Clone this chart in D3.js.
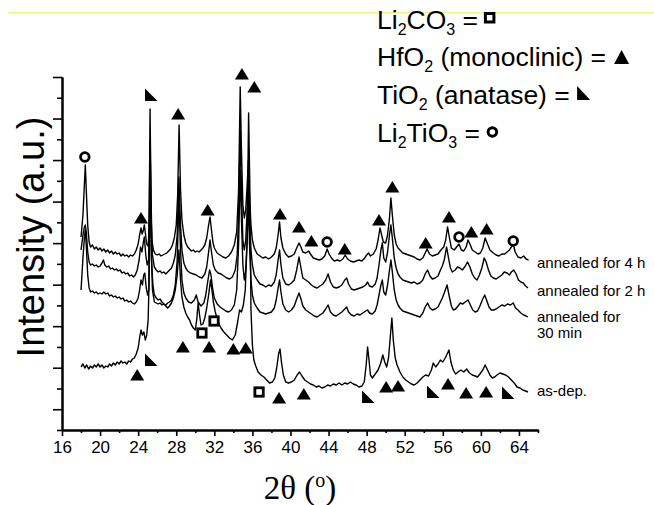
<!DOCTYPE html>
<html><head><meta charset="utf-8">
<script src="https://cdn.jsdelivr.net/npm/d3@7"></script>
<style>body{margin:0;background:#fff}svg{display:block}text{white-space:pre}</style>
</head><body>
<svg id="c" width="654" height="505"></svg>
<script>
// ---------- data ----------
const xTicks = [16,20,24,28,32,36,40,44,48,52,56,60,64];
const xMinorTicks = [18,22,26,30,34,38,42,46,50,54,58,62,66];

const curve4h = [[18.0,193],[18.2,215],[18.35,245],[18.45,265],[18.55,240],[18.7,205],[18.85,188],[19.0,183],[19.2,185],[19.4,181],[19.6,183],[19.8,180],[20.0,182],[20.2,179],[20.4,181],[20.6,178],[20.8,180],[21.0,177],[21.2,179],[21.4,176],[21.6,178],[21.8,176],[22.0,177],[22.2,174],[22.4,176],[22.6,174],[22.8,175],[23.0,173],[23.2,175],[23.4,174],[23.6,176],[23.8,180],[24.0,186],[24.15,195],[24.3,202],[24.42,196],[24.55,200],[24.65,205],[24.78,195],[24.9,186],[25.05,184],[25.15,200],[25.25,321],[25.35,230],[25.45,190],[25.6,180],[25.8,176],[26.0,175],[26.2,176],[26.4,174],[26.6,175],[26.8,176],[27.0,177],[27.2,179],[27.4,181],[27.6,185],[27.8,192],[28.0,205],[28.15,235],[28.3,305],[28.45,240],[28.6,210],[28.8,195],[29.0,187],[29.2,183],[29.4,181],[29.6,179],[29.8,180],[30.0,178],[30.2,179],[30.4,178],[30.6,180],[30.8,182],[31.0,185],[31.2,192],[31.4,205],[31.55,213],[31.7,200],[31.85,188],[32.0,182],[32.3,177],[32.6,175],[32.9,173],[33.2,172],[33.5,174],[33.8,178],[34.1,185],[34.35,198],[34.55,240],[34.72,343],[34.85,280],[35.0,225],[35.15,212],[35.3,220],[35.45,245],[35.58,270],[35.7,235],[35.85,205],[36.0,190],[36.2,182],[36.5,176],[36.8,174],[37.1,172],[37.4,173],[37.7,171],[38.0,173],[38.3,176],[38.5,182],[38.7,195],[38.85,208],[39.0,192],[39.2,182],[39.5,176],[39.8,173],[40.1,174],[40.4,176],[40.65,182],[40.9,187],[41.1,183],[41.3,178],[41.6,177],[41.9,179],[42.1,176],[42.4,172],[42.7,171],[43.0,170],[43.3,171],[43.6,174],[43.85,181],[44.05,176],[44.3,172],[44.6,169],[44.9,170],[45.2,169],[45.5,171],[45.75,175],[46.0,171],[46.3,169],[46.6,168],[46.9,169],[47.2,170],[47.5,169],[47.8,172],[48.0,175],[48.2,177],[48.4,174],[48.7,176],[49.0,181],[49.2,190],[49.4,202],[49.55,196],[49.75,188],[50.0,187],[50.2,195],[50.4,212],[50.55,232],[50.7,215],[50.9,195],[51.1,186],[51.3,182],[51.5,180],[51.8,177],[52.1,176],[52.4,175],[52.7,174],[53.0,173],[53.3,171],[53.6,170],[53.9,172],[54.15,177],[54.35,181],[54.6,176],[54.9,174],[55.2,175],[55.5,176],[55.8,180],[56.1,183],[56.3,190],[56.5,203],[56.7,192],[56.9,182],[57.2,180],[57.45,183],[57.7,186],[57.95,180],[58.2,179],[58.45,183],[58.65,190],[58.85,186],[59.1,180],[59.4,178],[59.7,176],[59.95,177],[60.2,182],[60.45,192],[60.7,186],[60.95,180],[61.3,177],[61.6,175],[61.9,174],[62.2,176],[62.5,176],[62.75,178],[63.0,180],[63.2,183],[63.4,186],[63.6,178],[63.9,173],[64.2,172],[64.5,174],[64.75,171],[65.0,170]];

const curve2h = [[18.0,180],[18.2,195],[18.35,203],[18.45,205],[18.55,198],[18.7,178],[18.85,168],[19.0,165],[19.2,166],[19.4,164],[19.6,165],[19.8,163],[20.0,164],[20.2,167],[20.35,170],[20.5,165],[20.7,163],[20.9,164],[21.1,161],[21.3,162],[21.5,160],[21.7,161],[21.9,159],[22.1,160],[22.3,157],[22.5,158],[22.7,156],[22.9,157],[23.1,154],[23.3,155],[23.5,153],[23.7,155],[23.9,160],[24.1,170],[24.25,183],[24.4,178],[24.55,188],[24.65,193],[24.8,175],[24.95,165],[25.1,170],[25.25,290],[25.35,215],[25.5,175],[25.7,163],[25.9,160],[26.1,158],[26.3,159],[26.5,157],[26.7,158],[26.9,156],[27.1,158],[27.3,160],[27.5,162],[27.7,167],[27.9,175],[28.1,195],[28.28,253],[28.45,205],[28.6,180],[28.8,167],[29.0,162],[29.2,159],[29.5,157],[29.8,156],[30.1,155],[30.4,153],[30.7,152],[31.0,156],[31.2,163],[31.4,178],[31.55,190],[31.7,178],[31.9,165],[32.1,160],[32.4,157],[32.7,156],[33.0,154],[33.3,152],[33.6,151],[33.9,153],[34.2,160],[34.4,175],[34.55,215],[34.72,300],[34.85,240],[35.0,190],[35.15,180],[35.3,190],[35.45,220],[35.58,250],[35.7,210],[35.85,180],[36.0,165],[36.2,155],[36.5,150],[36.8,146],[37.1,145],[37.4,143],[37.7,145],[38.0,144],[38.3,148],[38.5,155],[38.7,170],[38.85,180],[39.0,165],[39.2,152],[39.5,146],[39.8,145],[40.1,147],[40.4,150],[40.65,160],[40.9,173],[41.1,162],[41.3,152],[41.6,150],[41.9,148],[42.2,145],[42.5,143],[42.8,142],[43.1,144],[43.4,146],[43.7,150],[43.95,156],[44.2,148],[44.5,143],[44.8,142],[45.1,143],[45.4,145],[45.7,150],[45.9,152],[46.1,146],[46.4,141],[46.7,140],[47.0,141],[47.3,142],[47.6,143],[47.9,145],[48.1,148],[48.3,144],[48.6,143],[48.9,146],[49.1,152],[49.3,165],[49.5,180],[49.65,187],[49.8,172],[50.0,168],[50.2,178],[50.4,195],[50.55,205],[50.7,192],[50.9,172],[51.1,162],[51.3,156],[51.5,153],[51.8,150],[52.1,149],[52.4,148],[52.7,147],[53.0,148],[53.3,146],[53.6,147],[53.9,150],[54.15,156],[54.4,160],[54.65,154],[54.9,151],[55.2,152],[55.5,154],[55.75,160],[55.95,164],[56.15,170],[56.4,183],[56.6,172],[56.8,162],[57.0,158],[57.3,160],[57.55,163],[57.8,162],[58.05,160],[58.3,163],[58.6,168],[58.85,163],[59.1,156],[59.35,152],[59.6,150],[59.85,155],[60.1,162],[60.35,172],[60.55,168],[60.8,160],[61.05,154],[61.3,152],[61.6,151],[61.9,153],[62.2,155],[62.45,158],[62.75,157],[63.0,155],[63.2,158],[63.45,160],[63.7,156],[63.95,150],[64.2,148],[64.45,147],[64.7,144],[64.95,142]];

const curve30min = [[18.0,140],[18.2,172],[18.35,192],[18.45,200],[18.55,185],[18.7,155],[18.85,142],[19.0,138],[19.2,139],[19.4,137],[19.6,138],[19.8,136],[20.0,137],[20.2,136],[20.4,138],[20.6,136],[20.8,137],[21.0,134],[21.2,135],[21.4,133],[21.6,134],[21.8,132],[22.0,133],[22.2,131],[22.4,132],[22.6,129],[22.8,130],[23.0,128],[23.2,129],[23.4,127],[23.6,126],[23.8,128],[24.0,132],[24.15,140],[24.3,150],[24.45,145],[24.58,155],[24.7,157],[24.85,142],[25.0,135],[25.12,140],[25.25,260],[25.38,180],[25.5,140],[25.7,128],[25.9,127],[26.1,126],[26.3,127],[26.5,125],[26.7,126],[26.9,125],[27.1,127],[27.3,128],[27.5,130],[27.7,135],[27.9,145],[28.1,170],[28.28,230],[28.45,180],[28.6,150],[28.8,137],[29.0,132],[29.3,128],[29.6,127],[29.9,130],[30.1,135],[30.3,128],[30.6,124],[30.9,127],[31.1,135],[31.3,148],[31.5,160],[31.65,155],[31.8,143],[32.0,132],[32.3,126],[32.6,123],[32.9,121],[33.2,119],[33.5,118],[33.8,120],[34.1,125],[34.35,140],[34.55,185],[34.72,260],[34.85,210],[35.0,165],[35.15,150],[35.3,160],[35.45,190],[35.58,230],[35.7,185],[35.85,150],[36.0,135],[36.2,127],[36.5,122],[36.8,118],[37.1,117],[37.4,116],[37.7,117],[38.0,118],[38.3,122],[38.5,130],[38.7,142],[38.85,150],[39.0,138],[39.2,126],[39.5,120],[39.8,118],[40.1,120],[40.4,124],[40.65,131],[40.9,137],[41.1,131],[41.3,124],[41.6,120],[41.9,118],[42.2,116],[42.5,114],[42.8,113],[43.1,115],[43.4,117],[43.7,121],[43.95,125],[44.2,118],[44.5,115],[44.8,114],[45.1,116],[45.4,118],[45.7,121],[45.9,123],[46.1,118],[46.4,115],[46.7,114],[47.0,116],[47.3,115],[47.6,117],[47.9,119],[48.1,120],[48.3,117],[48.6,116],[48.9,119],[49.1,125],[49.3,135],[49.5,145],[49.65,150],[49.8,138],[50.0,135],[50.2,145],[50.4,160],[50.55,170],[50.7,158],[50.9,140],[51.1,130],[51.3,125],[51.5,122],[51.8,119],[52.1,118],[52.4,117],[52.7,116],[53.0,115],[53.3,114],[53.6,113],[53.9,117],[54.15,123],[54.4,127],[54.65,122],[54.9,120],[55.2,121],[55.5,123],[55.75,128],[55.95,132],[56.15,137],[56.45,145],[56.65,135],[56.9,124],[57.1,120],[57.35,121],[57.6,124],[57.85,127],[58.1,126],[58.35,128],[58.65,130],[58.9,125],[59.15,120],[59.4,118],[59.65,119],[59.9,124],[60.15,130],[60.4,135],[60.6,130],[60.85,123],[61.1,120],[61.35,120],[61.6,121],[61.9,123],[62.2,125],[62.5,124],[62.8,126],[63.1,125],[63.4,127],[63.65,122],[63.9,120],[64.2,117],[64.5,115],[64.75,114],[64.95,113]];

const curveAsDep = [[18.0,63],[18.2,66],[18.4,62],[18.6,65],[18.8,61],[19.0,64],[19.2,62],[19.4,65],[19.6,63],[19.8,66],[20.0,63],[20.2,65],[20.4,62],[20.6,64],[20.8,63],[21.0,66],[21.2,64],[21.4,67],[21.6,65],[21.8,68],[22.0,66],[22.2,69],[22.4,67],[22.6,68],[22.8,66],[23.0,69],[23.2,68],[23.4,71],[23.6,72],[23.8,76],[24.0,82],[24.15,92],[24.3,100],[24.45,95],[24.6,98],[24.75,90],[24.9,95],[25.05,110],[25.15,150],[25.27,285],[25.4,170],[25.55,145],[25.7,135],[25.9,132],[26.1,130],[26.3,131],[26.5,128],[26.7,126],[26.9,124],[27.1,122],[27.3,124],[27.5,127],[27.7,132],[27.9,140],[28.1,155],[28.28,180],[28.45,150],[28.6,133],[28.8,123],[29.0,117],[29.2,113],[29.4,110],[29.6,105],[29.8,102],[30.0,100],[30.15,110],[30.3,127],[30.45,115],[30.6,105],[30.8,106],[31.0,112],[31.2,122],[31.4,135],[31.6,150],[31.75,140],[31.9,128],[32.1,118],[32.4,108],[32.7,102],[33.0,98],[33.3,95],[33.6,92],[33.9,90],[34.2,95],[34.45,108],[34.65,120],[34.85,118],[35.05,125],[35.25,140],[35.45,190],[35.6,317],[35.72,250],[35.85,120],[36.0,85],[36.15,70],[36.35,64],[36.6,58],[36.9,55],[37.2,53],[37.5,50],[37.8,47],[38.1,48],[38.35,52],[38.55,62],[38.75,76],[38.9,81],[39.05,68],[39.25,55],[39.5,48],[39.8,47],[40.1,48],[40.4,50],[40.7,55],[40.95,58],[41.2,54],[41.5,50],[41.8,48],[42.1,46],[42.4,45],[42.7,43],[43.0,44],[43.3,42],[43.6,43],[43.9,45],[44.2,44],[44.5,46],[44.8,45],[45.1,47],[45.4,45],[45.7,47],[46.0,46],[46.3,48],[46.6,46],[46.9,45],[47.2,43],[47.5,44],[47.75,48],[47.95,65],[48.1,83],[48.25,70],[48.4,55],[48.6,52],[48.9,56],[49.2,60],[49.45,66],[49.7,75],[49.9,68],[50.1,63],[50.3,72],[50.5,95],[50.65,112],[50.8,90],[51.0,72],[51.2,65],[51.5,58],[51.8,53],[52.1,50],[52.4,48],[52.7,46],[53.0,45],[53.3,47],[53.6,50],[53.9,53],[54.2,55],[54.5,54],[54.8,60],[55.0,67],[55.25,63],[55.5,66],[55.75,70],[56.0,68],[56.25,72],[56.45,76],[56.65,80],[56.85,68],[57.1,60],[57.35,56],[57.6,58],[57.9,60],[58.2,58],[58.5,61],[58.8,57],[59.1,55],[59.4,54],[59.65,53],[59.9,56],[60.2,60],[60.45,65],[60.7,60],[60.95,55],[61.2,52],[61.45,53],[61.7,55],[62.0,57],[62.3,56],[62.6,55],[62.9,53],[63.2,50],[63.5,47],[63.8,43],[64.1,42],[64.4,40],[64.7,39],[64.95,38]];

// phase markers [2theta, intensity]
const markLi2CO3 = [[30.7,97],[31.97,109],[36.7,38]];
const markHfO2 = [[24.3,212],[28.2,316],[31.3,220],[34.9,356],[36.2,343],[38.9,216],[40.9,203],[42.2,189],[45.7,181],[49.3,210],[50.7,243],[54.2,187],[56.65,213],[59.0,198],[60.6,201],
                  [23.9,55],[28.7,83],[31.45,83],[34.0,81],[35.3,82],[38.8,32],[41.4,36],[50.05,43],[51.3,44],[56.55,46],[58.45,37],[60.55,38]];
const markAnatase = [[25.35,335],[25.35,70],[48.15,33],[54.97,38],[62.85,37]];
const markLi2TiO3 = [[18.4,273],[43.85,188],[57.7,193],[63.4,189]];

const curveLabels = [["annealed for 4 h",268],["annealed for 2 h",296],["annealed for",322],["30 min",338],["as-dep.",396]];

// ---------- drawing ----------
const svg = d3.select("#c");
const FONT = "'Liberation Sans', Arial, sans-serif";
const x = d3.scaleLinear().domain([16,66]).range([62,538]);
const y = d3.scaleLinear().domain([0,353]).range([430,77]);

// thin top rule
svg.append("line").attr("x1",8).attr("x2",654).attr("y1",12.5).attr("y2",12.5)
  .attr("stroke","#f2f27a").attr("stroke-width",1);

// axes
const yMajor = d3.range(1,18,2).map(v=>v*353/17);
const yMinor = d3.range(0,17,2).map(v=>v*353/17);

svg.append("g").attr("transform","translate(0,430)")
  .call(d3.axisBottom(x).tickValues(xMinorTicks).tickSize(3).tickSizeOuter(0).tickFormat(""));
const gx = svg.append("g").attr("transform","translate(0,430)")
  .call(d3.axisBottom(x).tickValues(xTicks).tickSize(6).tickSizeOuter(0).tickPadding(5));
gx.selectAll("text").attr("font-size",17).attr("font-family",FONT).attr("fill","#000");
svg.append("g").attr("transform","translate(62,0)")
  .call(d3.axisLeft(y).tickValues(yMinor).tickSize(5).tickSizeOuter(0).tickFormat(""));
svg.append("g").attr("transform","translate(62,0)")
  .call(d3.axisLeft(y).tickValues(yMajor).tickSize(9).tickSizeOuter(0).tickFormat(""));
svg.selectAll(".domain").attr("stroke","#000").attr("stroke-width",2);
svg.selectAll(".tick line").attr("stroke","#000").attr("stroke-width",1.6);

// curves
const line = d3.line().x(d=>x(d[0])).y(d=>y(d[1]));
[curveAsDep, curve30min, curve2h, curve4h].forEach(c=>{
  svg.append("path").datum(c).attr("d",line).attr("fill","none")
    .attr("stroke","#000").attr("stroke-width",1.4).attr("stroke-linejoin","round");
});

// markers
svg.selectAll(".tri").data(markHfO2).join("path")
  .attr("d",d=>{const cx=x(d[0]),cy=y(d[1]);return `M${cx-7},${cy+5.5}L${cx+7},${cy+5.5}L${cx},${cy-6}Z`;})
  .attr("fill","#000");
svg.selectAll(".ana").data(markAnatase).join("path")
  .attr("d",d=>{const cx=x(d[0]),cy=y(d[1]);return `M${cx-6},${cy-6.5}L${cx-6},${cy+6}L${cx+6.5},${cy+6}Z`;})
  .attr("fill","#000");
svg.selectAll(".sq").data(markLi2CO3).join("rect")
  .attr("x",d=>x(d[0])-4.2).attr("y",d=>y(d[1])-4.2).attr("width",8.4).attr("height",8.4)
  .attr("fill","#fff").attr("stroke","#000").attr("stroke-width",2.8);
svg.selectAll(".ci").data(markLi2TiO3).join("circle")
  .attr("cx",d=>x(d[0])).attr("cy",d=>y(d[1])).attr("r",4.3)
  .attr("fill","#fff").attr("stroke","#000").attr("stroke-width",2.8);

// curve labels
svg.selectAll(".cl").data(curveLabels).join("text")
  .attr("x",537).attr("y",d=>d[1]).text(d=>d[0])
  .attr("font-family",FONT).attr("font-size",15).attr("fill","#000");

// axis titles
svg.append("text").attr("transform","translate(44,237) rotate(-90)")
  .attr("text-anchor","middle").attr("font-family",FONT).attr("font-size",38)
  .text("Intensity (a.u.)");
const xt = svg.append("text").attr("x",300).attr("y",499).attr("text-anchor","middle")
  .attr("font-family","'Liberation Serif','Times New Roman',serif").attr("font-size",33);
xt.append("tspan").text("2θ (");
xt.append("tspan").attr("font-size",20).attr("dy",-12).text("o");
xt.append("tspan").attr("dy",12).text(")");

// legend
const LFS = 26.5;
function legendLine(parts, yb){
  const t = svg.append("text").attr("x",377).attr("y",yb)
    .attr("font-family",FONT).attr("font-size",LFS).attr("fill","#000");
  let shifted = false;
  parts.forEach(p=>{
    const ts = t.append("tspan").text(p.t);
    if(p.sub){ ts.attr("font-size",16).attr("dy",shifted?0:6); shifted = true; }
    else if(shifted){ ts.attr("dy",-6); shifted = false; }
  });
  return t;
}
const l1 = legendLine([{t:"Li"},{t:"2",sub:1},{t:"CO"},{t:"3",sub:1},{t:" = "}],28.5);
const l2 = legendLine([{t:"HfO"},{t:"2",sub:1},{t:" (monoclinic) ="}],66);
const l3 = legendLine([{t:"TiO"},{t:"2",sub:1},{t:" (anatase) = "}],103.5);
const l4 = legendLine([{t:"Li"},{t:"2",sub:1},{t:"TiO"},{t:"3",sub:1},{t:" = "}],141.5);
function endX(t){return t.node().getBBox().x + t.node().getBBox().width;}
const e1=endX(l1), e2=endX(l2), e3=endX(l3), e4=endX(l4);
svg.append("rect").attr("x",e1).attr("y",13.5).attr("width",8.5).attr("height",8.5)
  .attr("fill","#fff").attr("stroke","#000").attr("stroke-width",3);
svg.append("path").attr("d",`M${e2+8},${64}L${e2+23},${64}L${e2+15.5},${50}Z`).attr("fill","#000");
svg.append("path").attr("d",`M${e3},${86}L${e3},${100}L${e3+13},${100}Z`).attr("fill","#000");
svg.append("circle").attr("cx",e4+5).attr("cy",132).attr("r",4.3)
  .attr("fill","#fff").attr("stroke","#000").attr("stroke-width",3);
</script>
</body></html>
